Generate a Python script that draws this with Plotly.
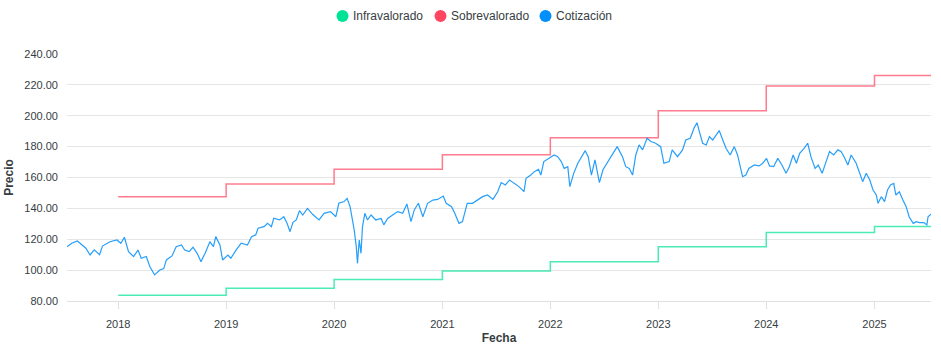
import plotly.graph_objects as go

# ---- data ----
fechas = [
    "2017-07-12", "2017-07-28", "2017-08-16", "2017-08-31", "2017-09-14", "2017-09-28",
    "2017-10-12", "2017-10-30", "2017-11-09", "2017-12-04", "2017-12-28",
    "2018-01-10", "2018-01-22", "2018-02-05", "2018-02-22", "2018-03-09", "2018-03-20",
    "2018-04-06", "2018-04-18", "2018-05-04", "2018-05-22", "2018-06-04", "2018-06-13",
    "2018-07-02", "2018-07-16", "2018-08-03", "2018-08-14", "2018-08-29", "2018-09-11",
    "2018-09-25", "2018-10-08", "2018-10-22", "2018-11-07", "2018-11-19", "2018-11-27",
    "2018-12-11", "2018-12-20",
    "2019-01-07", "2019-01-17", "2019-02-04", "2019-02-21", "2019-03-14", "2019-03-28",
    "2019-04-11", "2019-04-19", "2019-05-09", "2019-05-21", "2019-06-03", "2019-06-11",
    "2019-07-01", "2019-07-15", "2019-07-26", "2019-08-05", "2019-08-15", "2019-08-26",
    "2019-09-06", "2019-09-17", "2019-10-03", "2019-10-21", "2019-11-11", "2019-11-28",
    "2019-12-20",
    "2020-01-07", "2020-01-17", "2020-02-04", "2020-02-14", "2020-02-24", "2020-03-04",
    "2020-03-09", "2020-03-16", "2020-03-20", "2020-03-26", "2020-04-01", "2020-04-06",
    "2020-04-14", "2020-04-23", "2020-05-05", "2020-05-21", "2020-06-08", "2020-06-17",
    "2020-06-30", "2020-07-17", "2020-08-03", "2020-08-20", "2020-09-03", "2020-09-17",
    "2020-09-28", "2020-10-12", "2020-10-27", "2020-11-12", "2020-11-30", "2020-12-16",
    "2021-01-04", "2021-01-14", "2021-02-01", "2021-02-12", "2021-02-26", "2021-03-10",
    "2021-03-26", "2021-04-13", "2021-04-30", "2021-05-17", "2021-06-03", "2021-06-21",
    "2021-07-07", "2021-07-19", "2021-08-02", "2021-08-16", "2021-09-01", "2021-09-17",
    "2021-10-04", "2021-10-11", "2021-10-27", "2021-11-08", "2021-11-22", "2021-11-30",
    "2021-12-10", "2021-12-28",
    "2022-01-14", "2022-01-26", "2022-02-07", "2022-02-17", "2022-03-01", "2022-03-08",
    "2022-03-21", "2022-04-04", "2022-04-20", "2022-04-29", "2022-05-09", "2022-05-20",
    "2022-06-01", "2022-06-16", "2022-06-28", "2022-07-15", "2022-08-01", "2022-08-15",
    "2022-09-02", "2022-09-13", "2022-09-25", "2022-10-06", "2022-10-17", "2022-10-28",
    "2022-11-09", "2022-11-24", "2022-12-07", "2022-12-23",
    "2023-01-09", "2023-01-20", "2023-02-07", "2023-02-17", "2023-03-07", "2023-03-24",
    "2023-04-04", "2023-04-19", "2023-05-03", "2023-05-12", "2023-05-19", "2023-05-31",
    "2023-06-12", "2023-06-23", "2023-07-04", "2023-07-14", "2023-07-26", "2023-08-07",
    "2023-08-18", "2023-09-01", "2023-09-15", "2023-09-26", "2023-10-05", "2023-10-13",
    "2023-10-24", "2023-11-03", "2023-11-22", "2023-12-08", "2023-12-20",
    "2024-01-02", "2024-01-12", "2024-01-26", "2024-02-09", "2024-02-23", "2024-03-08",
    "2024-03-19", "2024-04-01", "2024-04-12", "2024-04-23", "2024-05-08", "2024-05-20",
    "2024-05-31", "2024-06-14", "2024-06-25", "2024-07-08", "2024-07-22", "2024-08-02",
    "2024-08-16", "2024-08-30", "2024-09-10", "2024-09-20", "2024-10-03", "2024-10-14",
    "2024-10-31", "2024-11-11", "2024-11-22", "2024-12-04", "2024-12-16", "2024-12-27",
    "2025-01-07", "2025-01-13", "2025-01-24", "2025-02-04", "2025-02-14", "2025-02-24",
    "2025-03-07", "2025-03-14", "2025-03-26", "2025-04-07", "2025-04-18", "2025-04-28",
    "2025-05-12", "2025-05-22", "2025-06-02", "2025-06-17", "2025-06-27", "2025-07-01",
    "2025-07-11",
]

cotizacion = [
    115.2, 117.4, 118.9, 116.3, 114.2, 109.8,
    113.1, 110.0, 115.6, 118.4, 119.5,
    117.4, 121.3, 112.0, 108.8, 113.0, 107.7,
    108.8, 102.3, 96.9, 100.1, 101.0, 106.6,
    109.2, 115.2, 116.3, 113.0, 112.0, 114.8,
    110.9, 105.5, 111.0, 118.4, 115.2, 121.7,
    116.3, 106.6,
    109.8, 107.7, 113.1, 117.4, 116.3, 121.7,
    122.8, 127.1, 128.2, 130.3, 128.2, 133.6,
    132.5, 134.6, 130.3, 124.9, 131.0, 132.5,
    138.5, 135.7, 140.0, 136.0, 132.5, 136.8,
    137.9,
    134.6, 143.3, 144.4, 146.5, 141.1, 131.4,
    126.0, 115.2, 104.4, 119.5, 110.9, 128.2,
    136.8, 132.5, 135.7, 132.5, 133.5, 129.3,
    133.5, 135.7, 137.9, 136.8, 142.9, 131.4,
    139.0, 143.3, 134.6, 143.3, 145.4, 145.8,
    148.0, 143.3, 141.1, 136.8, 130.3, 131.4,
    143.3, 143.3, 145.4, 147.6, 148.7, 145.8,
    150.8, 156.7, 155.2, 158.4, 156.2, 154.1,
    150.8, 159.5, 161.6, 163.8, 165.3, 161.6,
    170.3, 172.5,
    174.6, 173.5, 170.3, 165.9, 167.0, 154.1,
    162.7, 169.2, 174.6, 177.4, 173.5, 161.6,
    171.4, 156.7, 165.0, 170.3, 175.7, 180.0,
    173.5, 167.0, 165.9, 161.6, 174.6, 181.1,
    177.9, 185.4, 183.3, 182.2,
    180.0, 169.2, 170.3, 177.9, 173.5, 177.9,
    184.3, 185.4, 192.5, 195.5, 190.4, 182.2,
    181.1, 186.5, 184.3, 187.5, 190.4, 184.3,
    178.9, 174.6, 180.0, 174.6, 166.0, 160.5,
    161.6, 165.9, 168.1, 167.5, 169.2,
    172.4, 167.5, 167.0, 172.4, 168.1, 162.7,
    167.0, 174.6, 169.2, 175.7, 178.9, 182.2,
    173.5, 165.9, 168.1, 162.7, 171.4, 176.8,
    174.6, 177.9, 176.8, 173.5, 168.1, 174.6,
    169.2, 163.8, 157.3, 162.7, 158.4, 151.9,
    148.7, 143.3, 147.6, 144.4, 151.9, 155.2,
    156.2, 148.7, 150.8, 145.4, 141.1, 134.6,
    130.3, 131.4, 130.8, 130.8, 129.3, 134.6,
    136.2,
]

anios = ["2018-01-01", "2019-01-01", "2020-01-01", "2021-01-01",
         "2022-01-01", "2023-01-01", "2024-01-01", "2025-01-01"]
infravalorado = [83.7, 88.2, 94.0, 99.5, 105.5, 115.2, 124.3, 128.2]
sobrevalorado = [147.6, 155.8, 165.3, 174.8, 185.8, 203.3, 219.3, 226.0]
fecha_fin = "2025-07-11"

tick_anios = ["2018-01-01", "2019-01-01", "2020-01-01", "2021-01-01",
              "2022-01-01", "2023-01-01", "2024-01-01", "2025-01-01"]
tick_textos = ["2018", "2019", "2020", "2021", "2022", "2023", "2024", "2025"]

series_leyenda = ["Infravalorado", "Sobrevalorado", "Cotización"]

VERDE = "#00E396"
ROJO = "#FF4560"
AZUL = "#008FFB"
colores_leyenda = [VERDE, ROJO, AZUL]

W, H = 941, 350
ML, MR, MT, MB = 67, 10, 54, 49
PW, PH = W - ML - MR, H - MT - MB

step_x = anios + [fecha_fin]
infra_y = infravalorado + [infravalorado[-1]]
sobre_y = sobrevalorado + [sobrevalorado[-1]]

fig = go.Figure()
fig.add_trace(go.Scatter(x=step_x, y=infra_y, mode="lines", line_shape="hv",
                         line=dict(color=VERDE, width=1.5), opacity=0.7,
                         name=series_leyenda[0], showlegend=False, hoverinfo="skip"))
fig.add_trace(go.Scatter(x=step_x, y=sobre_y, mode="lines", line_shape="hv",
                         line=dict(color=ROJO, width=1.5), opacity=0.7,
                         name=series_leyenda[1], showlegend=False, hoverinfo="skip"))
fig.add_trace(go.Scatter(x=fechas, y=cotizacion, mode="lines",
                         line=dict(color=AZUL, width=1.2), opacity=0.85,
                         name=series_leyenda[2], showlegend=False))

FUENTE = "Liberation Sans, Arial, sans-serif"

# custom legend (circle marker + text, tightly spaced like the reference)
leyenda_cx = [342.5, 440.5, 545.5]   # circle centres (px)
leyenda_cy = 16
r = 6
shapes = []
annotations = []
for nombre, color, cx in zip(series_leyenda, colores_leyenda, leyenda_cx):
    shapes.append(dict(type="circle", xref="paper", yref="paper",
                       x0=(cx - r - ML) / PW, x1=(cx + r - ML) / PW,
                       y0=1 + (MT - leyenda_cy - r) / PH, y1=1 + (MT - leyenda_cy + r) / PH,
                       fillcolor=color, line=dict(width=0)))
    annotations.append(dict(text=nombre, xref="paper", yref="paper",
                            x=(cx + r + 2 - ML) / PW, y=1 + (MT - leyenda_cy) / PH,
                            xanchor="left", yanchor="middle", showarrow=False,
                            font=dict(family=FUENTE, size=12, color="#373d3f")))

fig.update_layout(
    width=W, height=H,
    margin=dict(l=ML, r=MR, t=MT, b=MB, autoexpand=False),
    paper_bgcolor="white", plot_bgcolor="white",
    font=dict(family=FUENTE, size=11, color="#373d3f"),
    showlegend=False,
    shapes=shapes,
    annotations=annotations,
)

fig.update_xaxes(
    type="date",
    range=["2017-07-12", fecha_fin],
    tickvals=tick_anios, ticktext=tick_textos,
    ticks="outside", ticklen=7, tickcolor="#e0e0e0",
    ticklabelstandoff=6,
    showgrid=False, zeroline=False,
    showline=True, linecolor="#e0e0e0", linewidth=1,
    tickfont=dict(size=11, color="#373d3f"),
    title=dict(text="<b>Fecha</b>", font=dict(size=12, color="#373d3f"), standoff=4),
)

fig.update_yaxes(
    range=[80, 240],
    tickvals=[80, 100, 120, 140, 160, 180, 200, 220, 240],
    tickformat=".2f",
    showgrid=True, gridcolor="#e6e6e6", gridwidth=1,
    zeroline=False, showline=False,
    ticks="", ticklabelstandoff=8,
    tickfont=dict(size=11, color="#373d3f"),
    title=dict(text="<b>Precio</b>", font=dict(size=12, color="#373d3f"), standoff=8),
)

fig.write_html("out.html")
